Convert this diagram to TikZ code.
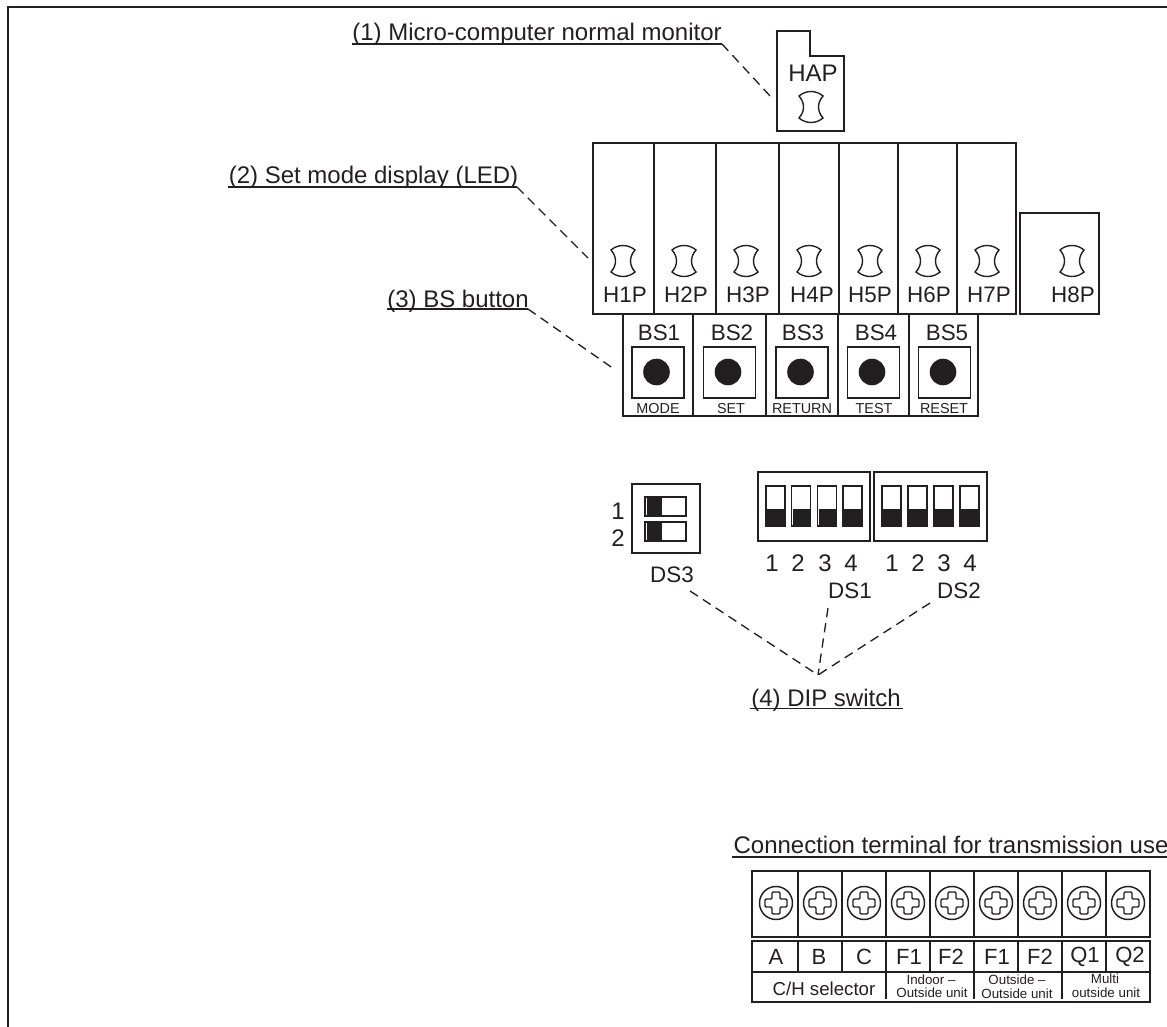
\documentclass[tikz,border=0pt]{standalone}
\usepackage{fontspec}
\setmainfont{Liberation Sans}
\definecolor{ink}{HTML}{231F20}
\tikzset{
    partline/.style={draw=ink,line width=1.35pt},
    ulline/.style={draw=ink,line width=1.1pt},
    leader/.style={draw=ink,line width=1pt,dash pattern=on 7pt off 4.5pt},
    biglabel/.style={text=ink,inner sep=0pt,font=\fontsize{18}{20}\selectfont},
    partlabel/.style={text=ink,inner sep=0pt,font=\fontsize{16.8}{18}\selectfont},
    capslabel/.style={text=ink,inner sep=0pt,font=\fontsize{10.8}{12}\selectfont},
    unitlabel/.style={text=ink,inner sep=0pt,font=\fontsize{10}{11}\selectfont},
    ledicon/.pic={
        \draw[draw=ink,line width=1.05pt,fill=white] (-12,-11) .. controls (-5,-17) and (5,-17) .. (12,-11)
            .. controls (6,-4) and (6,4) .. (12,11)
            .. controls (5,17) and (-5,17) .. (-12,11)
            .. controls (-6,4) and (-6,-4) .. (-12,-11) -- cycle;
    },
    screwicon/.pic={
        \draw[draw=ink,line width=1.1pt] (0,0) circle (16.5);
        \draw[draw=ink,line width=1.1pt,rounded corners=0.8pt] (-4,-11) -- (4,-11) -- (4,-4) -- (11,-4) -- (11,4) -- (4,4)
            -- (4,11) -- (-4,11) -- (-4,4) -- (-11,4) -- (-11,-4) -- (-4,-4) -- cycle;
    }
}
\begin{document}
\begin{tikzpicture}[x=0.75pt,y=-0.75pt]
    \useasboundingbox (0,0) rectangle (1167,1027);
    % outer frame
    \draw[draw=ink,line width=1.7pt] (8,1027) -- (8,7) -- (1167,7);

    % HAP
    \draw[partline] (777,31) -- (810,31) -- (810,56) -- (844,56) -- (844,131) -- (777,131) -- cycle;
    \node[biglabel] (hap) at (813,73) {HAP};
    \pic at (811,107) {ledicon};

    % LEDs
    \draw[partline] (593,143) rectangle (1016,314);
    \foreach \x in {654,716,779,839,898,957} {
        \draw[partline] (\x,143) -- (\x,314);
    }
    \draw[partline] (1020,213) rectangle (1099,314);
    \foreach \i/\ix/\tx in {1/623/625,2/684/686,3/746/748,4/809/812,5/870/870,6/928/929,7/987/989,8/1072/1073} {
        \pic at (\ix,261) {ledicon};
        \node[partlabel] (h\i p) at (\tx,295) {H\i P};
    }

    % BS buttons
    \draw[partline] (623,314) rectangle (978,416);
    \foreach \x in {693,766,838,909} {
        \draw[partline] (\x,314) -- (\x,416);
    }
    \foreach \i/\bx/\tx/\cx/\name in {1/658/659/658/MODE,2/729.5/732/731/SET,3/802/803/802/RETURN,4/873.5/876/874/TEST,5/944.5/947/944/RESET} {
        \draw[partline] (\bx-26,347) rectangle (\bx+26,398);
        \fill[ink] (\bx-1.5,372) circle (13.3);
        \node[partlabel] (bs\i) at (\tx,333) {BS\i};
        \node[capslabel] (bsname\i) at (\cx,409) {\name};
    }

    % DS3
    \draw[partline] (632,484) rectangle (700,553);
    \foreach \i/\y in {1/497,2/522} {
        \draw[partline] (645,\y) rectangle (686,\y+19);
        \fill[ink] (647,\y+1) rectangle (662,\y+18);
    }
    \node[biglabel] (dsthree1) at (618,511) {1};
    \node[biglabel] (dsthree2) at (618,538) {2};
    \node[partlabel] (ds3) at (672,575) {DS3};

    % DS1 and DS2
    \draw[partline] (758,472) rectangle (870,541);
    \draw[partline] (874,472) rectangle (987,541);
    \foreach \x in {766,791.5,817.5,843,882,908,934,960} {
        \draw[partline] (\x,486) rectangle (\x+19,526);
        \fill[ink] (\x+1,509) rectangle (\x+18,526);
    }
    \foreach \i/\x in {1/772,2/798,3/825,4/851} {
        \node[biglabel] (dsone\i) at (\x,563) {\i};
    }
    \foreach \i/\x in {1/892,2/918,3/944,4/970} {
        \node[biglabel] (dstwo\i) at (\x,563) {\i};
    }
    \node[partlabel] (ds1) at (850,591) {DS1};
    \node[partlabel] (ds2) at (959,591) {DS2};

    % terminal block
    \node[biglabel] (termtitle) at (951,845) {Connection terminal for transmission use};
    \draw[ulline] (732,857) -- (1167,857);
    \draw[partline] (752,871) rectangle (1150,937);
    \draw[partline] (752,941) rectangle (1150,1002);
    \draw[partline] (752,972) -- (1150,972);
    \foreach \x in {798,842,886,930,974,1018,1062,1106} {
        \draw[partline] (\x,871) -- (\x,937);
        \draw[partline] (\x,941) -- (\x,972);
    }
    \foreach \x in {886,974,1062} {
        \draw[partline] (\x,972) -- (\x,999);
    }
    \foreach \x in {776,820,864,908,952,996,1040,1084,1128} {
        \pic at (\x,903) {screwicon};
    }
    \foreach \i/\x/\name in {1/776/A,2/819/B,3/864/C,4/909/F1,5/951/F2,6/997/F1,7/1040/F2,8/1085/Q1,9/1130/Q2} {
        \node[partlabel,font=\fontsize{16.5}{18}\selectfont] (term\i) at (\x,957) {\name};
    }
    \node[text=ink,inner sep=0pt,font=\fontsize{14}{16}\selectfont] (chsel) at (824,989) {C/H selector};
    \node[unitlabel] (indoor) at (931,980) {Indoor –};
    \node[unitlabel] (indoorb) at (932,993) {Outside unit};
    \node[unitlabel] (outside) at (1017,980) {Outside –};
    \node[unitlabel] (outsideb) at (1017,994) {Outside unit};
    \node[unitlabel] (multi) at (1105,979) {Multi};
    \node[unitlabel] (multib) at (1106,993) {outside unit};

    % callouts
    \node[biglabel] (monitor) at (537,34.5) {(1) Micro-computer normal monitor};
    \node[biglabel] (setmode) at (373.5,177) {(2) Set mode display (LED)};
    \node[biglabel] (bsbutton) at (458,301) {(3) BS button};
    \node[biglabel] (dipsw) at (826,700.5) {(4) DIP switch};
    \coordinate (monitorend) at (771,97);
    \coordinate (setmodeend) at (588,258);
    \coordinate (bsend) at (614,369);
    \coordinate (dipmeet) at (818,675);
    \coordinate (ds1start) at (828,608);
    \coordinate (ds2start) at (930,603);
    \coordinate (ds3start) at (690,591);
    \coordinate (monitorul) at (722,44);
    \coordinate (setmodeul) at (517,187);
    \coordinate (bsul) at (528,309);
    \draw[ulline] (352,44) -- (monitorul);
    \draw[ulline] (228,187) -- (setmodeul);
    \draw[ulline] (387,309) -- (bsul);
    \draw[ulline] (750,708.5) -- (903,708.5);
    \draw[leader] (monitorul) -- (monitorend);
    \draw[leader] (setmodeul) -- (setmodeend);
    \draw[leader] (bsul) -- (bsend);
    \draw[leader] (ds3start) -- (dipmeet);
    \draw[leader] (ds1start) -- (dipmeet);
    \draw[leader] (ds2start) -- (dipmeet);
\end{tikzpicture}
\end{document}
